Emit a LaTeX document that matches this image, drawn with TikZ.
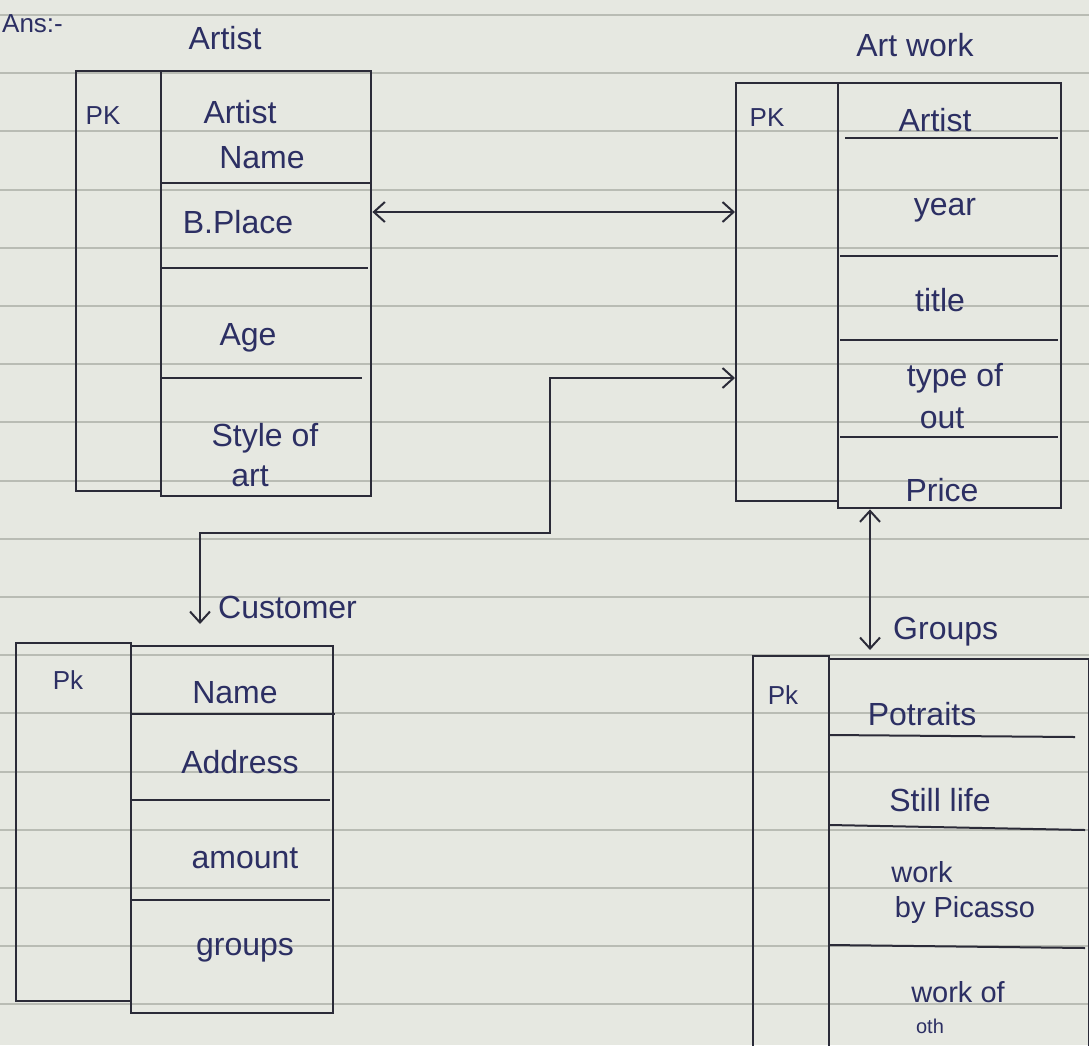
\documentclass[tikz,border=0pt]{standalone}
\usepackage{fontspec}
\setmainfont{Liberation Sans}
\usetikzlibrary{arrows.meta}
\definecolor{paper}{HTML}{E6E8E1}
\definecolor{ruled}{HTML}{B9BCB4}
\definecolor{ink}{HTML}{2C2F63}
\definecolor{pen}{HTML}{2B2B38}
\begin{document}
\begin{tikzpicture}[x=1pt,y=-1pt,
  box/.style={draw=pen, line width=2.4pt, anchor=north west, inner sep=0pt},
  txt/.style={text=ink, font=\fontsize{32}{34}\selectfont, inner sep=0pt},
  mid/.style={text=ink, font=\fontsize{29}{30}\selectfont, inner sep=0pt},
  small/.style={text=ink, font=\fontsize{26}{28}\selectfont, inner sep=0pt},
  rowline/.style={draw=pen, line width=2pt},
  conn/.style={draw=pen, line width=2pt},
  tips/.style={{Straight Barb[length=11pt,width=20pt]}-{Straight Barb[length=11pt,width=20pt]}}
]
\fill[paper] (0,0) rectangle (1089,1045);
\useasboundingbox (0,0) rectangle (1089,1045);
\foreach \k in {0,...,17}{
  \pgfmathsetmacro{\yy}{15+58.2*\k}
  \draw[ruled, line width=2pt] (0,\yy) -- (1089,\yy);
}

% headings
\node[small, anchor=west] (ans) at (2,24) {Ans:-};
\node[txt] (t-artist) at (225,38) {Artist};
\node[txt] (t-artwork) at (915,45) {Art work};

% ---------------- Artist table
\node[box, minimum width=85pt, minimum height=420pt] (artpk) at (75,70) {};
\node[box, minimum width=210pt, minimum height=425pt] (artattr) at (160,70) {};
\node[small] (artpk-l) at (103,116) {PK};
\draw[rowline] (160,183) -- (370,183);
\draw[rowline] (160,268) -- (368,268);
\draw[rowline] (160,378) -- (362,378);
\node[txt] (a1) at (240,112) {Artist};
\node[txt] (a2) at (262,158) {Name};
\node[txt] (a3) at (238,222) {B.Place};
\node[txt] (a4) at (248,338) {Age};
\node[txt] (a5) at (265,438) {Style of};
\node[txt] (a6) at (250,476) {art};

% ---------------- Art work table
\node[box, minimum width=102pt, minimum height=418pt] (awpk) at (735,82) {};
\node[box, minimum width=223pt, minimum height=425pt] (awattr) at (837,82) {};
\node[small] (awpk-l) at (767,118) {PK};
\draw[rowline] (845,138) -- (1058,138);
\draw[rowline] (840,256) -- (1058,256);
\draw[rowline] (840,340) -- (1058,340);
\draw[rowline] (840,437) -- (1058,437);
\node[txt] (w1) at (935,120) {Artist};
\node[txt] (w2) at (945,210) {year};
\node[txt] (w3) at (940,300) {title};
\node[txt] (w4) at (955,378) {type of};
\node[txt] (w5) at (942,418) {out};
\node[txt] (w6) at (942,490) {Price};

% ---------------- Customer table
\node[box, minimum width=115pt, minimum height=358pt] (cpk) at (15,642) {};
\node[box, minimum width=202pt, minimum height=367pt] (cattr) at (130,645) {};
\node[small] (cpk-l) at (68,680) {Pk};
\draw[rowline] (130,714) -- (335,714);
\draw[rowline] (130,800) -- (330,800);
\draw[rowline] (130,900) -- (330,900);
\node[txt] (c1) at (235,693) {Name};
\node[txt] (c2) at (240,762) {Address};
\node[txt] (c3) at (245,858) {amount};
\node[txt] (c4) at (245,950) {groups};
\node[txt, anchor=west] (t-customer) at (218,607) {Customer};

% ---------------- Groups table
\node[box, minimum width=76pt, minimum height=400pt] (gpk) at (752,655) {};
\node[box, minimum width=260pt, minimum height=400pt] (gattr) at (828,658) {};
\node[small] (gpk-l) at (783,695) {Pk};
\draw[rowline] (830,735) -- (1075,737);
\draw[rowline] (830,825) -- (1085,830);
\draw[rowline] (830,945) -- (1085,948);
\node[txt] (g1) at (922,714) {Potraits};
\node[txt] (g2) at (940,800) {Still life};
\node[mid] (g3) at (922,872) {work};
\node[mid] (g4) at (965,910) {by Picasso};
\node[mid] (g5) at (958,992) {work of};
\node[small, font=\fontsize{20}{22}\selectfont] (g6) at (930,1026) {oth};
\node[txt, anchor=west] (t-groups) at (893,632) {Groups};

% ---------------- connectors
\coordinate (bpy) at (0,212);
\draw[conn, tips] (artattr.east |- bpy) -- (awpk.west |- bpy);

\coordinate (custtip) at (200,624);
\coordinate (bend) at (550,533);
\coordinate (toy) at (0,378);
\draw[conn, tips] (custtip) |- (bend) |- (awpk.west |- toy);

\coordinate (gx) at (870,0);
\draw[conn, tips] (awattr.south -| gx) -- ([yshift=8pt]gattr.north -| gx);
\end{tikzpicture}
\end{document}
